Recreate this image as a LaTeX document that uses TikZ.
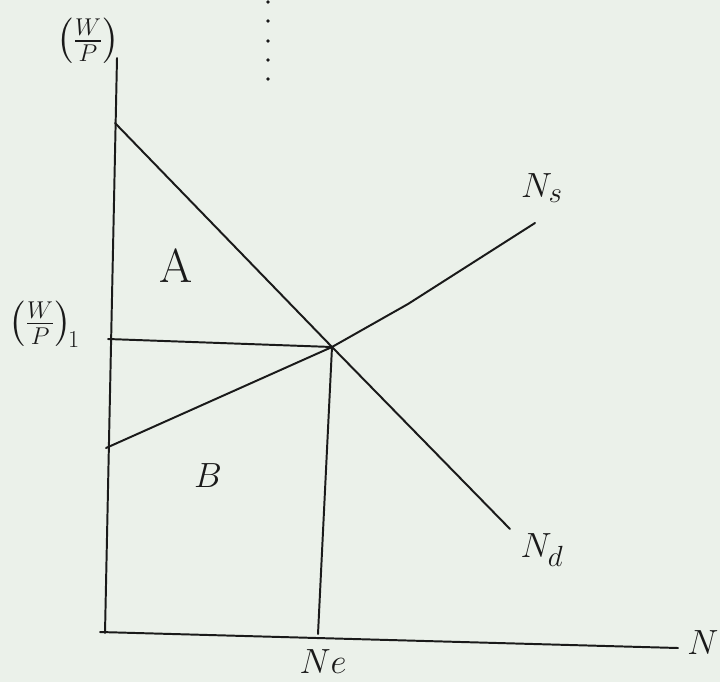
\documentclass[tikz,border=0pt]{standalone}
\usepackage{amsmath,amssymb}
\usepackage{xcolor}
\usetikzlibrary{positioning}
\definecolor{ink}{HTML}{1A1A1A}
\definecolor{paper}{HTML}{EBF1EA}
\newcommand{\wage}{\left(\frac{W}{P}\right)}

\begin{document}
\begin{tikzpicture}[x=0.025cm, y=-0.025cm,
  curve/.style={ink, line width=1.4pt, line cap=round},
  lbl/.style={ink, inner sep=0pt, font=\fontsize{28}{34}\selectfont},
  big/.style={ink, inner sep=0pt, font=\fontsize{34}{40}\selectfont},
  frac/.style={ink, inner sep=0pt, font=\fontsize{27}{30}\selectfont}]
\fill[paper] (0,0) rectangle (720,682);
\useasboundingbox (0,0) rectangle (720,682);
% axes and key points
\coordinate (ytop) at (117,58);
\coordinate (ybot) at (105,633);
\coordinate (xbeg) at (100,632);
\coordinate (xend) at (678,648);
\coordinate (ndtop) at (115,123);
\coordinate (ndend) at (510,529);
\coordinate (nsbeg) at (106,448);
\coordinate (nsmid) at (408,304);
\coordinate (nsend) at (535,223);
\coordinate (eq) at (332,347);
\coordinate (wpone) at (108,339);
\coordinate (nefoot) at (318,634);
\draw[curve] (ytop) -- (ybot);
\draw[curve] (xbeg) -- (xend);
\draw[curve] (ndtop) -- (eq) -- (ndend);
\draw[curve] (nsbeg) -- (eq) -- (nsmid) -- (nsend);
\draw[curve] (wpone) -- (eq);
\draw[curve] (eq) -- (nefoot);
% dotted guide at the top
\foreach \y in {2,21,41,60,79} {
  \fill[ink] (268,\y) circle (1.3pt);
}
% labels
\node[frac] (wp) at (88,41) {$\wage$};
\node[frac] (wp1) at (44,324) {$\wage_{\!1}$};
\node[big] (areaA) at (176,266) {A};
\node[big] (areaB) at (208,476) {$B$};
\node[lbl] (ns) at (542,188) {$N_s$};
\node[lbl] (nd) at (542,550) {$N_d$};
\node[lbl] (ne) at (323,662) {$Ne$};
\node[lbl] (naxis) at (703,643) {$N$};
\end{tikzpicture}
\end{document}
